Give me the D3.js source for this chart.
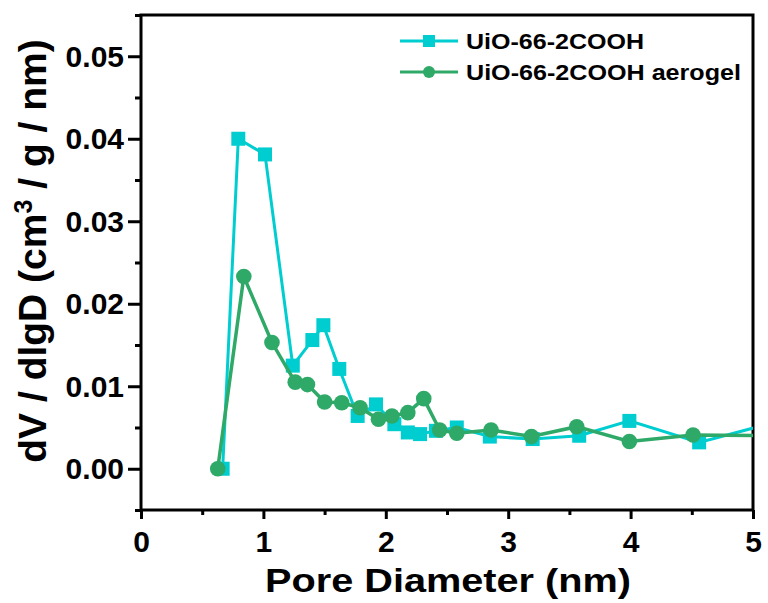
<!DOCTYPE html>
<html>
<head>
<meta charset="utf-8">
<script src="https://cdn.jsdelivr.net/npm/d3@7"></script>
<style>
  body { margin: 0; background: #fff; }
  text { font-family: "Liberation Sans", Arial, sans-serif; font-weight: bold; fill: #000; }
</style>
</head>
<body>
<div id="chart"></div>
<script>
// pore size distribution
const poreBare = [0.667, 0.795, 1.013, 1.24, 1.40, 1.49, 1.62, 1.77, 1.92, 2.07, 2.18, 2.28, 2.41, 2.58, 2.85, 3.20, 3.58, 3.99, 4.56, 5.30];
const volBare  = [0.0000, 0.0400, 0.0381, 0.0125, 0.0156, 0.0174, 0.0121, 0.0064, 0.0078, 0.0054, 0.0044, 0.0042, 0.0046, 0.0050, 0.0039, 0.0036, 0.0040, 0.0058, 0.0032, 0.0061];

const poreGel = [0.627, 0.84, 1.07, 1.26, 1.36, 1.50, 1.64, 1.79, 1.94, 2.05, 2.18, 2.31, 2.44, 2.58, 2.86, 3.19, 3.56, 3.99, 4.51, 5.20];
const volGel  = [0.0000, 0.0233, 0.0153, 0.0105, 0.0102, 0.0081, 0.0080, 0.0074, 0.0060, 0.0064, 0.0068, 0.0085, 0.0047, 0.0043, 0.0047, 0.0039, 0.0051, 0.0033, 0.0041, 0.0040];

const seriesNames = ["UiO-66-2COOH", "UiO-66-2COOH aerogel"];
const xTicks = [0, 1, 2, 3, 4, 5];
const yTicks = [0.00, 0.01, 0.02, 0.03, 0.04, 0.05];

const cyan = "#00cdd0";
const green = "#2fa968";

const W = 768, H = 603;
const margin = {top: 15, right: 15, bottom: 93, left: 141};

const svg = d3.select("#chart").append("svg")
    .attr("width", W)
    .attr("height", H);

const x = d3.scaleLinear().domain([0, 5]).range([margin.left, W - margin.right]);
const y = d3.scaleLinear().domain([-0.005, 0.055]).range([H - margin.bottom, margin.top]);

svg.append("clipPath").attr("id", "plotclip")
  .append("rect")
    .attr("x", x(0)).attr("y", y(0.055))
    .attr("width", x(5) - x(0)).attr("height", y(-0.005) - y(0.055));

// minor ticks
const xMinor = d3.range(0.5, 5, 1);
const yMinor = d3.range(-0.005, 0.056, 0.01);

svg.append("g")
    .attr("transform", "translate(0," + y(-0.005) + ")")
    .call(d3.axisBottom(x).tickValues(xMinor).tickSize(5).tickFormat(""))
    .call(g => g.select(".domain").remove())
    .call(g => g.selectAll("line").attr("stroke-width", 3));

svg.append("g")
    .attr("transform", "translate(" + x(0) + ",0)")
    .call(d3.axisLeft(y).tickValues(yMinor).tickSize(6).tickFormat(""))
    .call(g => g.select(".domain").remove())
    .call(g => g.selectAll("line").attr("stroke-width", 3));

// major ticks + labels
const xAxis = svg.append("g")
    .attr("transform", "translate(0," + y(-0.005) + ")")
    .call(d3.axisBottom(x).tickValues(xTicks).tickSize(9).tickPadding(12).tickFormat(d3.format("d")));
xAxis.select(".domain").remove();
xAxis.selectAll("line").attr("stroke-width", 3);
xAxis.selectAll("text").style("font-size", "30px").attr("dy", "0.71em");

const yAxis = svg.append("g")
    .attr("transform", "translate(" + x(0) + ",0)")
    .call(d3.axisLeft(y).tickValues(yTicks).tickSize(13).tickPadding(4).tickFormat(d3.format(".2f")));
yAxis.select(".domain").remove();
yAxis.selectAll("line").attr("stroke-width", 3);
yAxis.selectAll("text").style("font-size", "30px").attr("dy", "0.34em");

// frame
svg.append("rect")
    .attr("x", x(0)).attr("y", y(0.055))
    .attr("width", x(5) - x(0)).attr("height", y(-0.005) - y(0.055))
    .attr("fill", "none")
    .attr("stroke", "#000")
    .attr("stroke-width", 3);

// series
const plot = svg.append("g").attr("clip-path", "url(#plotclip)");
const line = d3.line().x(d => x(d[0])).y(d => y(d[1]));

const bare = d3.zip(poreBare, volBare);
const gel = d3.zip(poreGel, volGel);

plot.append("path").datum(bare)
    .attr("fill", "none").attr("stroke", cyan).attr("stroke-width", 3)
    .attr("d", line);
plot.selectAll(".sq").data(bare).enter().append("rect")
    .attr("class", "sq")
    .attr("x", d => x(d[0]) - 7).attr("y", d => y(d[1]) - 7)
    .attr("width", 14).attr("height", 14)
    .attr("fill", cyan);

plot.append("path").datum(gel)
    .attr("fill", "none").attr("stroke", green).attr("stroke-width", 3.5)
    .attr("d", line);
plot.selectAll(".ci").data(gel).enter().append("circle")
    .attr("class", "ci")
    .attr("cx", d => x(d[0])).attr("cy", d => y(d[1]))
    .attr("r", 7.8)
    .attr("fill", green);

// legend
const legend = svg.append("g");
const rows = [{name: seriesNames[0], color: cyan, shape: "square", y: 41, len: 178},
              {name: seriesNames[1], color: green, shape: "circle", y: 72, len: 275}];
rows.forEach(r => {
  legend.append("line")
      .attr("x1", 400).attr("x2", 458).attr("y1", r.y).attr("y2", r.y)
      .attr("stroke", r.color).attr("stroke-width", 3);
  if (r.shape === "square") {
    legend.append("rect").attr("x", 423).attr("y", r.y - 6).attr("width", 12).attr("height", 12).attr("fill", r.color);
  } else {
    legend.append("circle").attr("cx", 429).attr("cy", r.y).attr("r", 6).attr("fill", r.color);
  }
  legend.append("text")
      .attr("x", 466).attr("y", r.y + 8)
      .attr("textLength", r.len).attr("lengthAdjust", "spacingAndGlyphs")
      .style("font-size", "22px")
      .text(r.name);
});

// axis titles
svg.append("text")
    .attr("x", 448).attr("y", 592)
    .attr("text-anchor", "middle")
    .attr("textLength", 366).attr("lengthAdjust", "spacingAndGlyphs")
    .style("font-size", "34px")
    .text("Pore Diameter (nm)");

const yt = svg.append("text")
    .attr("transform", "translate(46,251) rotate(-90)")
    .attr("text-anchor", "middle")
    .style("font-size", "39px");
yt.append("tspan").text("dV / dlgD (cm");
yt.append("tspan").attr("dy", -14).style("font-size", "25px").text("3");
yt.append("tspan").attr("dy", 14).text(" / g / nm)");
</script>
</body>
</html>
